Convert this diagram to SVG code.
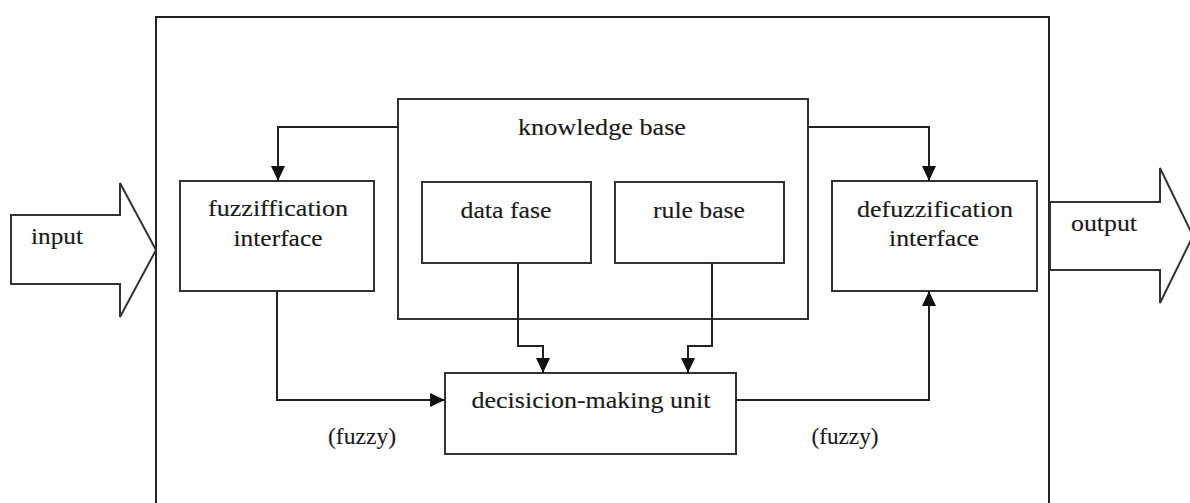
<svg xmlns="http://www.w3.org/2000/svg" width="1190" height="503" viewBox="0 0 1190 503">
<defs>
<style>
.box{fill:#fff;stroke:#333;stroke-width:2}
.ln{fill:none;stroke:#222;stroke-width:2}
.t{font-family:"Liberation Serif","Times New Roman",Times,serif;font-size:24px;fill:#1a1a1a;stroke:#1a1a1a;stroke-width:0.15;text-anchor:middle}
</style>
<marker id="ah" markerUnits="userSpaceOnUse" markerWidth="15" markerHeight="14" refX="15" refY="7" orient="auto" viewBox="0 0 15 14">
<path d="M0,0 L15,7 L0,14 z" fill="#111"/>
</marker>
</defs>
<rect width="1190" height="503" fill="#fff"/>
<g id="system">
<path class="ln" d="M156,503 V17 H1049 V503"/>
</g>
<g id="input">
<polygon class="box" points="11,215 120,215 120,183 156,250 120,317 120,284 11,284"/>
<text class="t" x="57" y="244" textLength="52" lengthAdjust="spacingAndGlyphs">input</text>
</g>
<g id="output">
<polygon class="box" points="1050,202 1160,202 1160,168 1193,236 1160,303 1160,270 1050,270"/>
<text class="t" x="1104" y="231" textLength="66" lengthAdjust="spacingAndGlyphs">output</text>
</g>
<g id="knowledge-base">
<rect class="box" x="398" y="99" width="410" height="220"/>
<text class="t" x="602" y="135" textLength="168" lengthAdjust="spacingAndGlyphs">knowledge base</text>
</g>
<g id="data-fase">
<rect class="box" x="422" y="182" width="169" height="81"/>
<text class="t" x="506" y="218" textLength="91" lengthAdjust="spacingAndGlyphs">data fase</text>
</g>
<g id="rule-base">
<rect class="box" x="615" y="182" width="169" height="81"/>
<text class="t" x="699" y="218" textLength="92" lengthAdjust="spacingAndGlyphs">rule base</text>
</g>
<g id="fuzzification">
<rect class="box" x="180" y="181" width="194" height="110"/>
<text class="t" x="278" y="216" textLength="140" lengthAdjust="spacingAndGlyphs">fuzziffication</text>
<text class="t" x="278" y="246" textLength="89" lengthAdjust="spacingAndGlyphs">interface</text>
</g>
<g id="defuzzification">
<rect class="box" x="832" y="181" width="205" height="110"/>
<text class="t" x="935" y="217" textLength="156" lengthAdjust="spacingAndGlyphs">defuzzification</text>
<text class="t" x="934" y="246" textLength="90" lengthAdjust="spacingAndGlyphs">interface</text>
</g>
<g id="decision">
<rect class="box" x="445" y="373" width="291" height="81"/>
<text class="t" x="591" y="408" textLength="239" lengthAdjust="spacingAndGlyphs">decisicion-making unit</text>
</g>
<g id="connectors">
<path class="ln" d="M398,127 H278 V181" marker-end="url(#ah)"/>
<path class="ln" d="M808,127 H929 V181" marker-end="url(#ah)"/>
<path class="ln" d="M277,291 V400 H445" marker-end="url(#ah)"/>
<path class="ln" d="M518,263 V346 H543 V373" marker-end="url(#ah)"/>
<path class="ln" d="M712,263 V346 H688 V373" marker-end="url(#ah)"/>
<path class="ln" d="M736,400 H929 V291" marker-end="url(#ah)"/>
</g>
<g id="labels">
<text class="t" x="362" y="444" textLength="68" lengthAdjust="spacingAndGlyphs">(fuzzy)</text>
<text class="t" x="845" y="444" textLength="67" lengthAdjust="spacingAndGlyphs">(fuzzy)</text>
</g>
</svg>
